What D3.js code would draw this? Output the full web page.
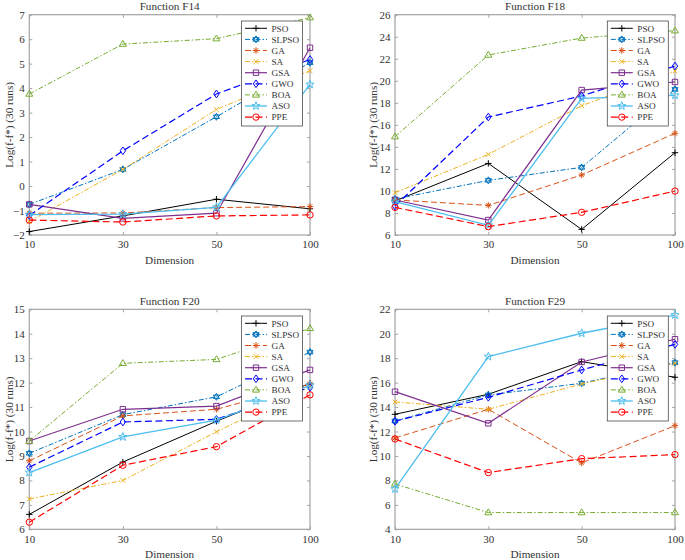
<!DOCTYPE html>
<html><head><meta charset="utf-8">
<script src="https://cdn.jsdelivr.net/npm/d3@7"></script>
<style>
body{margin:0;background:#fff}
svg{display:block}
</style>
</head><body><svg id="c" width="685" height="560"></svg>
<script>
// ---------------- DATA ----------------
const dimensions = [10, 30, 50, 100];
const algorithms = ["PSO", "SLPSO", "GA", "SA", "GSA", "GWO", "BOA", "ASO", "PPE"];
const functionNames = ["Function F14", "Function F18", "Function F20", "Function F29"];

// rows follow the order of `algorithms`, columns follow `dimensions`
const f14Values = [
  [-1.86, -1.22, -0.54, -0.93],
  [-0.75, 0.68, 2.83, 5.04],
  [-1.11, -1.1, -0.88, -0.84],
  [-1.45, 0.68, 3.13, 4.71],
  [-0.75, -1.32, -1.11, 5.65],
  [-1.2, 1.44, 3.76, 5.17],
  [3.76, 5.8, 6.02, 6.88],
  [-1.17, -1.15, -0.87, 4.15],
  [-1.39, -1.47, -1.22, -1.18]
];
const f18Values = [
  [9.09, 12.5, 6.51, 13.47],
  [9.27, 10.96, 12.14, 19.22],
  [9.18, 8.69, 11.45, 15.23],
  [9.84, 13.32, 17.74, 20.89],
  [9.18, 7.36, 19.16, 19.89],
  [8.63, 16.71, 18.62, 21.34],
  [14.93, 22.34, 23.88, 24.55],
  [9.03, 6.88, 18.4, 18.68],
  [8.51, 6.76, 8.06, 9.99]
];
const f20Values = [
  [6.61, 8.75, 10.42, 11.97],
  [9.11, 10.69, 11.42, 13.25],
  [8.8, 10.64, 10.91, 11.95],
  [7.24, 8.0, 9.99, 11.85],
  [9.61, 10.91, 11.04, 12.52],
  [8.54, 10.39, 10.5, 11.81],
  [9.61, 12.79, 12.95, 14.22],
  [8.32, 9.78, 10.47, 11.89],
  [6.29, 8.62, 9.38, 11.5]
];
const f29Values = [
  [13.41, 15.05, 17.72, 16.44],
  [12.86, 14.99, 15.95, 17.64],
  [11.47, 13.82, 9.43, 12.48],
  [14.42, 13.82, 15.89, 17.58],
  [15.26, 12.67, 17.69, 19.55],
  [12.84, 14.8, 17.04, 19.13],
  [7.71, 5.37, 5.37, 5.37],
  [7.3, 18.13, 20.04, 21.53],
  [11.39, 8.64, 9.78, 10.11]
];
const f14Ticks = [-2, -1, 0, 1, 2, 3, 4, 5, 6, 7];
const f18Ticks = [6, 8, 10, 12, 14, 16, 18, 20, 22, 24, 26];
const f20Ticks = [6, 7, 8, 9, 10, 11, 12, 13, 14, 15];
const f29Ticks = [4, 6, 8, 10, 12, 14, 16, 18, 20, 22];

// ---------------- STYLE ----------------
const FONT = "'Liberation Serif', 'Times New Roman', 'DejaVu Serif', serif";
const colors = ["#000000", "#0072BD", "#D95319", "#EDB120", "#7E2F8E", "#0000FF", "#77AC30", "#4DBEEE", "#FF0000"];
const dashes = [null, "5,2,1.5,2", "6,3", "5,2,1.5,2", null, "7,3.5", "5,2,1.5,2", null, "7,3.5"];
const markers = ["plus", "hexagram", "asterisk", "x", "square", "diamond", "triangle", "pentagram", "circle"];
const widths = [1, 1, 1, 1, 1.2, 1.2, 1, 1.3, 1.2];

function markerPath(type, r) {
  const p = d3.path();
  if (type === "plus") { p.moveTo(-r, 0); p.lineTo(r, 0); p.moveTo(0, -r); p.lineTo(0, r); }
  else if (type === "x") { const a = r * 0.72; p.moveTo(-a, -a); p.lineTo(a, a); p.moveTo(-a, a); p.lineTo(a, -a); }
  else if (type === "asterisk") {
    const a = r * 0.7;
    p.moveTo(-r, 0); p.lineTo(r, 0); p.moveTo(0, -r); p.lineTo(0, r);
    p.moveTo(-a, -a); p.lineTo(a, a); p.moveTo(-a, a); p.lineTo(a, -a);
  }
  else if (type === "square") { const a = r * 0.85; p.rect(-a, -a, 2 * a, 2 * a); }
  else if (type === "diamond") { const a = r * 1.2, b = r * 0.85; p.moveTo(0, -a); p.lineTo(b, 0); p.lineTo(0, a); p.lineTo(-b, 0); p.closePath(); }
  else if (type === "triangle") { const a = r * 1.15; p.moveTo(0, -a); p.lineTo(a * 0.95, a * 0.6); p.lineTo(-a * 0.95, a * 0.6); p.closePath(); }
  else if (type === "circle") { p.moveTo(r, 0); p.arc(0, 0, r, 0, 2 * Math.PI); }
  else if (type === "pentagram") {
    const R = r * 1.35, ri = R * 0.42;
    for (let i = 0; i < 10; i++) {
      const ang = -Math.PI / 2 + i * Math.PI / 5, rr = i % 2 ? ri : R;
      const x = rr * Math.cos(ang), y = rr * Math.sin(ang);
      i ? p.lineTo(x, y) : p.moveTo(x, y);
    }
    p.closePath();
  }
  else if (type === "hexagram") {
    const R = r * 1.1;
    for (let k = 0; k < 2; k++) {
      for (let i = 0; i < 3; i++) {
        const ang = (k ? Math.PI / 2 : -Math.PI / 2) + i * 2 * Math.PI / 3;
        const x = R * Math.cos(ang), y = R * Math.sin(ang);
        i ? p.lineTo(x, y) : p.moveTo(x, y);
      }
      p.closePath();
    }
  }
  return p.toString();
}

// ---------------- LAYOUT ----------------
const panels = [
  { name: functionNames[0], values: f14Values, ticks: f14Ticks, l: 29.3, r: 310, t: 14.7, b: 235, lx: 241.5, ly: 21, ylx: 9 },
  { name: functionNames[1], values: f18Values, ticks: f18Ticks, l: 395, r: 675, t: 14.7, b: 235, lx: 607.3, ly: 21, ylx: 373.5 },
  { name: functionNames[2], values: f20Values, ticks: f20Ticks, l: 29.3, r: 310, t: 309.3, b: 529.3, lx: 241.5, ly: 316, ylx: 9 },
  { name: functionNames[3], values: f29Values, ticks: f29Ticks, l: 395, r: 675, t: 309.3, b: 529.3, lx: 607.3, ly: 316, ylx: 373.5 }
];

const svg = d3.select("#c");
const boxColor = "#a3a3a3";

function styleText(sel, size) {
  return sel.style("font-family", FONT).style("font-size", size).style("font-weight", "normal").style("fill", "#333");
}

panels.forEach(P => {
  const x = d3.scalePoint().domain(dimensions).range([P.l, P.r]).padding(0);
  const y = d3.scaleLinear().domain([P.ticks[0], P.ticks[P.ticks.length - 1]]).range([P.b, P.t]);
  const g = svg.append("g");

  // axes
  const ax = (gen, tx, ty, labels) => {
    const a = g.append("g").attr("transform", `translate(${tx},${ty})`).call(gen);
    a.attr("font-family", null).attr("font-size", null);
    a.select(".domain").remove();
    a.selectAll(".tick line").attr("stroke", boxColor);
    styleText(a.selectAll("text"), "11px");
    if (!labels) a.selectAll("text").remove();
    return a;
  };
  ax(d3.axisLeft(y).tickValues(P.ticks).tickSize(-3).tickPadding(4.5).tickFormat(d3.format("d")), P.l, 0, true);
  ax(d3.axisRight(y).tickValues(P.ticks).tickSize(-3), P.r, 0, false);
  ax(d3.axisBottom(x).tickSize(-3).tickPadding(5.5), 0, P.b, true);
  ax(d3.axisTop(x).tickSize(-3), 0, P.t, false);

  g.append("rect").attr("x", P.l).attr("y", P.t).attr("width", P.r - P.l).attr("height", P.b - P.t)
    .attr("fill", "none").attr("stroke", boxColor).attr("stroke-width", 1.2);

  // title & labels
  styleText(g.append("text").attr("x", (P.l + P.r) / 2).attr("y", P.t - 4.5).attr("text-anchor", "middle"), "11.2px").text(P.name);
  styleText(g.append("text").attr("x", (P.l + P.r) / 2).attr("y", P.b + 28.5).attr("text-anchor", "middle"), "11.2px").text("Dimension");
  styleText(g.append("text").attr("transform", `translate(${P.ylx},${(P.t + P.b) / 2}) rotate(-90)`)
    .attr("text-anchor", "middle").attr("dy", "0.35em"), "11.2px").text("Log(f-f*) (30 runs)");

  // series
  const line = d3.line().x((d, i) => x(dimensions[i])).y(d => y(d));
  algorithms.forEach((name, k) => {
    const vals = P.values[k];
    g.append("path").attr("d", line(vals)).attr("fill", "none").attr("stroke", colors[k])
      .attr("stroke-width", widths[k]).attr("stroke-dasharray", dashes[k]);
    g.selectAll(null).data(vals).enter().append("path")
      .attr("transform", (d, i) => `translate(${x(dimensions[i])},${y(d)})`)
      .attr("d", markerPath(markers[k], 3.2)).attr("fill", "none").attr("stroke", colors[k]).attr("stroke-width", 1);
  });

  // legend
  const lg = g.append("g").attr("transform", `translate(${P.lx},${P.ly})`);
  lg.append("rect").attr("width", 61).attr("height", 105).attr("fill", "#fff")
    .attr("stroke", "#4d4d4d").attr("stroke-width", 0.8);
  algorithms.forEach((name, k) => {
    const ry = 7.3 + k * 11.1;
    lg.append("line").attr("x1", 3.5).attr("x2", 25.5).attr("y1", ry).attr("y2", ry)
      .attr("stroke", colors[k]).attr("stroke-width", widths[k]).attr("stroke-dasharray", dashes[k]);
    lg.append("path").attr("transform", `translate(14.5,${ry})`).attr("d", markerPath(markers[k], 3.2))
      .attr("fill", "none").attr("stroke", colors[k]).attr("stroke-width", 1);
    styleText(lg.append("text").attr("x", 30).attr("y", ry).attr("dy", "0.35em"), "9.2px").text(name);
  });
});
</script>
</body></html>
